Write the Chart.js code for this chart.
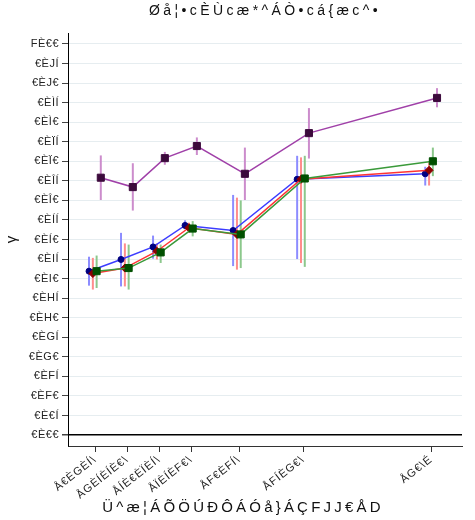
<!DOCTYPE html>
<html>
<head>
<meta charset="utf-8">
<script src="https://cdn.jsdelivr.net/npm/chart.js@4"></script>
<style>html,body{margin:0;padding:0;background:#fff}</style>
</head>
<body>
<canvas id="chart" width="475" height="520"></canvas>
<script>
const chartTitle = 'Øå¦•cÈÙcæ*^ÁÒ•cá{æc^•';
const xTitle = 'Ü^æ¦ÁÕÖÚÐÔÁÓå}ÁÇFJJ€ÅD';
const yTitle = 'γ';

const xTickPos = [1.25, 3.75, 6.25, 8.75, 12.5, 17.5, 27.5];
const xTickLabels = ['Å€ÈGÈÍ\\', 'ÅGÈÍÈÍÈ€\\', 'ÅÍÈ€ÈÏÈÍ\\', 'ÅÏÈÍÈF€\\', 'ÅF€ÈFÍ\\', 'ÅFÍÈG€\\', 'ÅG€\\É'];

const yTickVals = [0, 0.05, 0.1, 0.15, 0.2, 0.25, 0.3, 0.35, 0.4, 0.45, 0.5,
                   0.55, 0.6, 0.65, 0.7, 0.75, 0.8, 0.85, 0.9, 0.95, 1];
const yTickLabels = ['€È€€', '€È€Í', '€ÈF€', '€ÈFÍ', '€ÈG€', '€ÈGÍ', '€ÈH€', '€ÈHÍ', '€ÈI€', '€ÈIÍ', '€ÈÍ€',
                     '€ÈÍÍ', '€ÈÎ€', '€ÈÎÍ', '€ÈÏ€', '€ÈÏÍ', '€ÈÌ€', '€ÈÌÍ', '€ÈJ€', '€ÈJÍ', 'FÈ€€'];

const blueY  = [0.419, 0.449, 0.481, 0.536, 0.523, 0.654, 0.668];
const blueLo = [0.382, 0.380, 0.451, 0.526, 0.432, 0.450, 0.638];
const blueHi = [0.456, 0.517, 0.510, 0.549, 0.614, 0.714, 0.686];

const redY  = [0.413, 0.427, 0.470, 0.530, 0.513, 0.654, 0.677];
const redLo = [0.372, 0.380, 0.449, 0.517, 0.423, 0.440, 0.638];
const redHi = [0.453, 0.490, 0.490, 0.543, 0.607, 0.710, 0.697];

const greenY  = [0.419, 0.427, 0.467, 0.528, 0.513, 0.656, 0.700];
const greenLo = [0.376, 0.372, 0.440, 0.508, 0.427, 0.430, 0.662];
const greenHi = [0.459, 0.487, 0.487, 0.547, 0.600, 0.714, 0.735];

const purpleY  = [0.658, 0.634, 0.708, 0.739, 0.668, 0.772, 0.862];
const purpleLo = [0.601, 0.574, 0.691, 0.716, 0.601, 0.707, 0.838];
const purpleHi = [0.715, 0.695, 0.724, 0.761, 0.735, 0.836, 0.887];

// vertical error bars, drawn under the lines
const errorBars = {
  id: 'errorBars',
  beforeDatasetsDraw(chart) {
    const { ctx, scales: { x, y } } = chart;
    chart.data.datasets.forEach(ds => {
      ctx.save();
      ctx.strokeStyle = ds.barColor;
      ctx.lineWidth = 2;
      ds.data.forEach((p, j) => {
        const px = x.getPixelForValue(p.x);
        ctx.beginPath();
        ctx.moveTo(px, y.getPixelForValue(ds.lo[j]));
        ctx.lineTo(px, y.getPixelForValue(ds.hi[j]));
        ctx.stroke();
      });
      ctx.restore();
    });
  }
};

// the original glyphs are set wide, so widen the letter spacing on some texts
function spaced(obj, fn, sp) {
  const orig = obj[fn];
  obj[fn] = function (...args) {
    const ctx = this.ctx;
    ctx.save();
    ctx.letterSpacing = sp;
    orig.apply(this, args);
    ctx.restore();
  };
}

const letterSpacing = {
  id: 'letterSpacing',
  afterLayout(chart) {
    if (chart.$spaced) return;
    chart.$spaced = true;
    spaced(chart.scales.x2, 'drawTitle', '3.4px');
    spaced(chart.scales.x, 'drawLabels', '1px');
    spaced(chart.scales.y, 'drawLabels', '0.5px');
    spaced(chart.titleBlock, 'draw', '3.2px');
  }
};

function series(vals, lo, hi, dodge, line, bar, marker, style, radius, order) {
  return {
    data: vals.map((v, i) => ({ x: xTickPos[i] + dodge, y: v })),
    lo, hi,
    borderColor: line,
    borderWidth: 1.5,
    barColor: bar,
    pointBackgroundColor: marker,
    pointBorderColor: marker,
    pointBorderWidth: 1,
    pointStyle: style,
    pointRadius: radius,
    tension: 0,
    order
  };
}

new Chart(document.getElementById('chart'), {
  type: 'line',
  data: {
    datasets: [
      series(purpleY, purpleLo, purpleHi, 0.45, '#a040a8', '#cc8ccc', '#3c0a3c', 'rect', 5, 3),
      series(blueY, blueLo, blueHi, -0.47, '#3c3cff', '#8c8cff', '#000080', 'circle', 3, 2),
      series(redY, redLo, redHi, -0.17, '#ff3434', '#ff8c8c', '#8b0000', 'rectRot', 4, 1),
      series(greenY, greenLo, greenHi, 0.125, '#3a9a3a', '#8cc88c', '#005000', 'rect', 5, 0)
    ]
  },
  options: {
    responsive: false,
    animation: false,
    devicePixelRatio: 1,
    layout: { padding: { left: 24, right: 13, top: 0, bottom: 0 } },
    plugins: {
      legend: { display: false },
      tooltip: { enabled: false },
      title: {
        display: true,
        position: 'bottom',
        text: xTitle,
        color: '#111',
        font: { family: 'Liberation Sans', size: 15, weight: 'normal' },
        padding: { top: 0, bottom: 3 }
      }
    },
    scales: {
      x: {
        type: 'linear',
        min: -0.86,
        max: 29.9,
        afterBuildTicks: s => { s.ticks = xTickPos.map(v => ({ value: v })); },
        afterFit: s => { s.height = 53; },
        ticks: {
          autoSkip: false,
          minRotation: 38,
          maxRotation: 38,
          padding: 1,
          color: '#222',
          font: { family: 'Liberation Sans', size: 11 },
          callback: (v, i) => xTickLabels[i]
        },
        grid: { drawOnChartArea: false, drawTicks: true, tickLength: 6, tickColor: '#333' },
        border: { display: true, color: '#333', width: 1 }
      },
      x2: {
        type: 'linear',
        position: 'top',
        min: 0,
        max: 1,
        afterFit: s => { s.height = 33; },
        ticks: { display: false },
        grid: { display: false },
        border: { display: false },
        title: {
          display: true,
          text: chartTitle,
          color: '#111',
          font: { family: 'Liberation Sans', size: 14 },
          padding: { top: 3, bottom: 0 }
        }
      },
      y: {
        min: -0.028,
        max: 1.028,
        afterBuildTicks: s => { s.ticks = yTickVals.map(v => ({ value: v })); },
        afterFit: s => { s.width = 44; },
        ticks: {
          padding: 3,
          color: '#222',
          font: { family: 'Liberation Sans', size: 11 },
          callback: (v, i) => yTickLabels[i]
        },
        grid: {
          color: c => (c.tick && c.tick.value === 0 ? '#000' : '#e6edf0'),
          lineWidth: c => (c.tick && c.tick.value === 0 ? 1.5 : 1),
          tickColor: '#444',
          tickLength: 6
        },
        border: { display: true, color: '#000', width: 1 },
        title: {
          display: true,
          text: yTitle,
          color: '#111',
          font: { family: 'Liberation Sans', size: 15 },
          padding: { top: -21, bottom: 0 }
        }
      }
    }
  },
  plugins: [errorBars, letterSpacing]
});
</script>
</body>
</html>
